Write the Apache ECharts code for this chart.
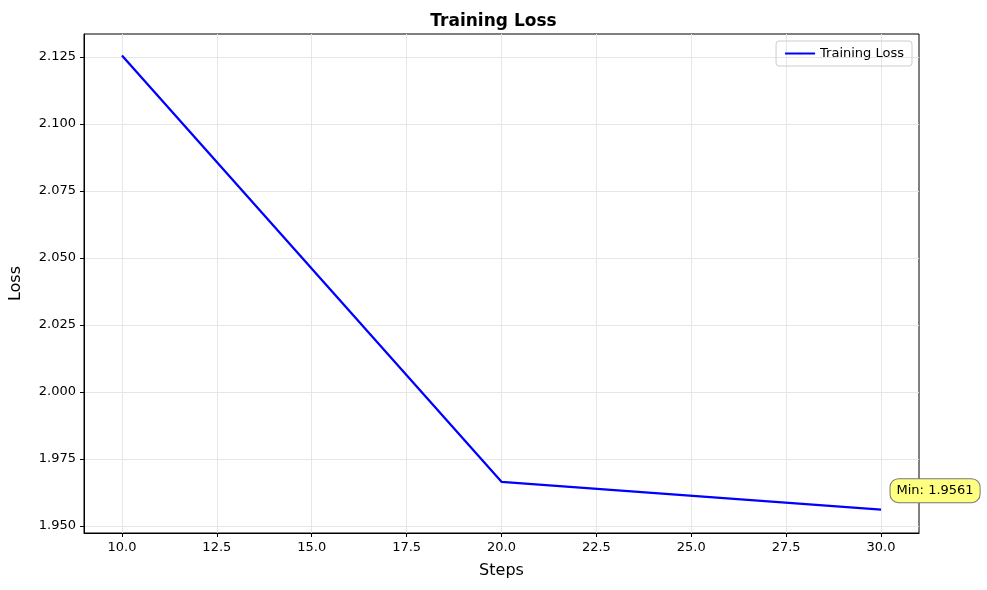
<!DOCTYPE html>
<html>
<head>
<meta charset="utf-8">
<script src="https://cdn.jsdelivr.net/npm/echarts@6/dist/echarts.min.js"></script>
<style>html,body{margin:0;padding:0;background:#fff}#c{width:987px;height:590px}</style>
</head>
<body>
<div id="c"></div>
<script>
var steps = [10, 20, 30];
var losses = [2.1256, 1.9665, 1.9561];
var xTicks = [10, 12.5, 15, 17.5, 20, 22.5, 25, 27.5, 30];
var yTicks = [1.950, 1.975, 2.000, 2.025, 2.050, 2.075, 2.100, 2.125];
var minLoss = 1.9561;

var font = 'DejaVu Sans';
var chart = echarts.init(document.getElementById('c'));
chart.setOption({
    animation: false,
    textStyle: {fontFamily: font},
    title: {
        text: 'Training Loss', left: 'center', top: 8,
        textStyle: {fontSize: 17, fontWeight: 'bold', color: '#000', fontFamily: font}
    },
    legend: {
        data: ['Training Loss'], right: 75, top: 41,
        orient: 'vertical', itemWidth: 30, itemHeight: 2,
        borderColor: '#ccc', borderWidth: 1, borderRadius: 3, padding: [6, 8],
        textStyle: {fontSize: 13, color: '#000'}
    },
    grid: {left: 84, right: 68, top: 34, bottom: 57, show: true,
        borderColor: '#000', borderWidth: 1, backgroundColor: 'transparent'},
    xAxis: {
        type: 'value', min: 9, max: 31,
        name: 'Steps', nameLocation: 'middle', nameGap: 30,
        nameTextStyle: {fontSize: 16, color: '#000'},
        axisLine: {onZero: false, lineStyle: {color: '#000'}},
        axisTick: {customValues: xTicks, length: 4, lineStyle: {color: '#000'}},
        axisLabel: {customValues: xTicks, color: '#000', fontSize: 13,
            formatter: function (v) { return v.toFixed(1); }},
        splitLine: {show: true, lineStyle: {color: '#e6e6e6'}}
    },
    yAxis: {
        type: 'value', min: 1.9474, max: 2.1336,
        name: 'Loss', nameLocation: 'middle', nameGap: 60,
        nameTextStyle: {fontSize: 16, color: '#000'},
        axisLine: {show: true, onZero: false, lineStyle: {color: '#000'}},
        axisTick: {show: true, customValues: yTicks, length: 4, lineStyle: {color: '#000'}},
        axisLabel: {customValues: yTicks, color: '#000', fontSize: 13,
            formatter: function (v) { return v.toFixed(3); }},
        splitLine: {show: true, lineStyle: {color: '#e6e6e6'}}
    },
    series: [{
        name: 'Training Loss', type: 'line',
        data: steps.map(function (s, i) { return [s, losses[i]]; }),
        showSymbol: false, symbol: 'none',
        lineStyle: {color: '#0000ff', width: 2.3}, itemStyle: {color: '#0000ff'},
        markPoint: {
            symbol: 'circle', symbolSize: 1,
            itemStyle: {color: 'transparent'},
            data: [{coord: [30, minLoss]}],
            label: {
                show: true, formatter: 'Min: ' + minLoss.toFixed(4),
                position: 'right', offset: [4, -19],
                backgroundColor: '#ffff80', borderColor: '#777', borderWidth: 1,
                borderRadius: 8, padding: [5, 6], color: '#000', fontSize: 13
            }
        }
    }]
});
</script>
</body>
</html>
